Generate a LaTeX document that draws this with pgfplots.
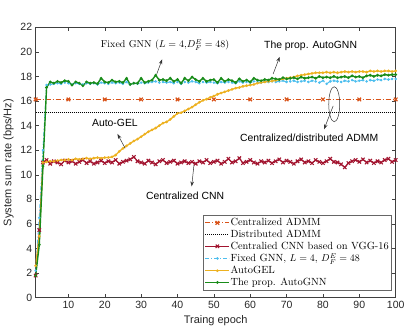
\documentclass[border=0pt]{standalone}
\usepackage{fontspec}
\setsansfont{Liberation Sans}
\usepackage{pgfplots}
\usepackage{pgfplotstable}
\pgfplotsset{compat=1.18}
\usetikzlibrary{arrows.meta}
\definecolor{admm}{rgb}{0.85,0.325,0.098}
\definecolor{cnn}{rgb}{0.635,0.078,0.184}
\definecolor{fixgnn}{rgb}{0.301,0.745,0.933}
\definecolor{gel}{rgb}{0.929,0.694,0.125}
\definecolor{gnn}{rgb}{0.1,0.55,0.1}

% epoch, CNN (VGG-16), fixed GNN, AutoGEL, AutoGNN
\pgfplotstableread{
x   cnn    fixed  gel    gnn
1   1.80   2.20   2.60   1.80
2   5.50   6.50   5.00   4.30
3   11.00  12.00  11.00  10.70
4   11.20  17.30  11.05  17.10
5   10.90  17.35  11.10  17.55
6   11.10  17.40  11.10  17.45
7   11.00  17.45  11.15  17.60
8   10.85  17.40  11.20  17.50
9   11.15  17.50  11.20  17.65
10  11.00  17.45  11.25  17.60
11  11.10  17.35  11.20  17.30
12  10.90  17.45  11.30  17.55
13  11.05  17.40  11.25  17.45
14  11.20  17.35  11.30  17.25
15  10.95  17.45  11.35  17.55
16  11.10  17.40  11.30  17.45
17  10.90  17.45  11.35  17.50
18  11.00  17.35  11.40  17.40
19  11.15  17.50  11.35  17.85
20  10.95  17.45  11.40  17.55
21  11.10  17.40  11.40  17.50
22  11.00  17.50  11.45  17.70
23  11.20  17.45  11.60  17.55
24  10.90  17.50  11.90  17.60
25  11.05  17.40  12.15  17.50
26  11.15  17.55  12.35  17.85
27  11.25  17.35  12.55  17.35
28  11.45  17.45  12.75  17.45
29  11.10  17.40  12.90  17.45
30  11.00  17.50  13.10  17.85
31  10.90  17.45  13.30  17.50
32  11.15  17.50  13.50  17.60
33  11.00  17.55  13.65  17.70
34  10.85  17.60  13.80  18.10
35  11.10  17.50  14.00  17.70
36  11.20  17.55  14.20  17.75
37  10.95  17.50  14.30  17.65
38  11.05  17.55  14.50  17.85
39  11.15  17.45  14.75  17.60
40  10.90  17.55  15.00  17.75
41  11.00  17.40  15.05  17.45
42  11.10  17.55  15.20  17.85
43  10.95  17.50  15.35  17.65
44  11.05  17.60  15.50  17.95
45  10.90  17.55  15.70  17.75
46  11.10  17.45  15.90  17.60
47  11.00  17.55  16.05  17.85
48  11.20  17.50  16.15  17.60
49  10.95  17.55  16.30  17.70
50  11.05  17.50  16.40  17.75
51  11.15  17.45  16.55  17.50
52  10.90  17.55  16.65  17.85
53  11.05  17.50  16.75  17.60
54  11.30  17.55  16.85  17.75
55  11.00  17.50  16.95  17.65
56  11.10  17.45  17.05  17.50
57  11.35  17.60  17.10  17.80
58  10.95  17.50  17.20  17.60
59  11.05  17.55  17.25  17.70
60  11.20  17.50  17.30  17.55
61  11.00  17.60  17.35  17.85
62  10.90  17.55  17.45  17.70
63  11.10  17.50  17.50  17.65
64  11.00  17.60  17.55  17.75
65  11.15  17.55  17.60  17.70
66  10.95  17.60  17.62  17.85
67  11.10  17.55  17.68  17.80
68  11.25  17.60  17.75  17.75
69  11.00  17.65  17.80  17.90
70  11.15  17.55  17.85  17.80
71  11.05  17.60  17.90  17.85
72  10.90  17.65  17.95  17.90
73  11.10  17.55  18.05  17.80
74  11.25  17.60  18.10  17.95
75  11.00  17.65  18.15  17.85
76  11.10  17.55  18.20  17.90
77  10.95  17.65  18.25  17.95
78  11.20  17.60  18.30  17.85
79  11.05  17.50  18.30  18.00
80  10.95  17.65  18.30  17.90
81  11.10  17.40  18.35  17.95
82  11.30  17.60  18.30  17.90
83  11.05  17.65  18.35  18.00
84  11.00  17.60  18.30  17.90
85  10.85  17.55  18.35  17.95
86  10.60  17.65  18.40  18.00
87  10.95  17.60  18.35  17.90
88  11.10  17.70  18.40  18.05
89  11.20  17.60  18.35  17.95
90  11.05  17.65  18.40  18.00
91  11.25  17.70  18.40  17.90
92  11.00  17.60  18.35  18.05
93  11.15  17.70  18.45  18.10
94  10.95  17.65  18.40  18.00
95  11.10  17.75  18.45  18.10
96  11.00  17.70  18.40  18.05
97  11.20  17.80  18.45  18.15
98  11.30  17.75  18.45  18.10
99  11.05  17.80  18.40  18.15
100 11.20  17.80  18.45  18.15
}\rates

\begin{document}
\begin{tikzpicture}
\begin{axis}[
    width=360.1pt, height=270.4pt, scale only axis,
    xmin=1, xmax=100, ymin=0, ymax=22,
    xtick={10,20,...,100}, ytick={0,2,...,22},
    tick align=inside, major tick length=3.5pt,
    axis line style={black!75}, every tick/.style={black!75},
    ticklabel style={font=\sffamily\fontsize{10.5}{12}\selectfont, text=black!85},
    /pgf/number format/assume math mode=true,
    xlabel={Traing epoch}, ylabel={System sum rate (bps/Hz)},
    label style={font=\sffamily\fontsize{11}{13}\selectfont, text=black!85},
    legend cell align=left,
    legend style={font=\rmfamily\fontsize{10.4}{12}\selectfont,
        at={(0.987,0.026)}, anchor=south east,
        draw=black!60, inner sep=1.5pt, row sep=-1.2pt,
        nodes={inner xsep=0.5pt}},
    legend image code/.code={\draw[mark repeat=2,mark phase=2,#1]
        plot coordinates {(0pt,0pt) (12pt,0pt) (24pt,0pt)};},
]
\addplot[admm, line width=1pt, dash pattern=on 5pt off 2pt on 1pt off 2pt,
    mark=x, mark size=2.5pt, mark options={solid, line width=1.2pt}]
    coordinates {(1,16.13) (10,16.13) (20,16.13) (30,16.13) (40,16.13) (50,16.13)
                 (60,16.13) (70,16.13) (80,16.13) (90,16.13) (100,16.13)};
\addlegendentry{Centralized ADMM}
\addplot[black, line width=1pt, dash pattern=on 1pt off 1pt]
    coordinates {(1,15.07) (100,15.07)};
\addlegendentry{Distributed ADMM}
\addplot[cnn, line width=1.1pt, mark=x, mark size=2.4pt, mark options={line width=1.1pt}]
    table[x=x, y=cnn] {\rates};
\addlegendentry{Centralied CNN based on VGG-16}
\addplot[fixgnn, line width=1pt, dash pattern=on 4pt off 2pt on 1pt off 2pt,
    mark=*, mark size=0.7pt, mark options={solid}]
    table[x=x, y=fixed] {\rates};
\addlegendentry{Fixed GNN, $L=4$, $D_F^E=48$}
\addplot[gel, line width=1.3pt, mark=*, mark size=0.6pt]
    table[x=x, y=gel] {\rates};
\addlegendentry{AutoGEL}
\addplot[gnn, line width=1.4pt, mark=*, mark size=0.6pt]
    table[x=x, y=gnn] {\rates};
\addlegendentry{The prop. AutoGNN}

% annotations
\node[font=\rmfamily] at (axis cs:36.6,20.56) {Fixed GNN ($L=4$,$D_F^E=48$)};
\draw[-{Stealth[length=5pt,width=3.5pt]}, black!80, line width=0.5pt]
    (axis cs:34.3,18.2) -- (axis cs:35.8,19.4);
\node[font=\sffamily\fontsize{10.4}{12}\selectfont] at (axis cs:76.6,20.5) {The prop. AutoGNN};
\draw[-{Stealth[length=5pt,width=3.5pt]}, black!80, line width=0.5pt]
    (axis cs:66.3,18.2) -- (axis cs:68.1,19.6);
\node[font=\sffamily\fontsize{10.4}{12}\selectfont] at (axis cs:22.8,14.19) {Auto-GEL};
\draw[-{Stealth[length=5pt,width=3.5pt]}, black!80, line width=0.5pt]
    (axis cs:25.6,12.16) -- (axis cs:23.5,13.32);
\node[font=\sffamily\fontsize{10.4}{12}\selectfont] at (axis cs:42.1,8.27) {Centralized CNN};
\draw[-{Stealth[length=5pt,width=3.5pt]}, black!80, line width=0.5pt]
    (axis cs:44.6,11.0) -- (axis cs:43.9,9.05);
\node[font=\sffamily\fontsize{10.4}{12}\selectfont] at (axis cs:76.2,13.02) {Centralized/distributed ADMM};
\draw[black!80, line width=0.5pt] (axis cs:83.1,15.74) ellipse [x radius=5.5pt, y radius=17.5pt];
\draw[-{Stealth[length=5pt,width=3.5pt]}, black!80, line width=0.5pt]
    (axis cs:82.8,15.6) -- (axis cs:80.3,13.7);
\end{axis}
\path (current axis.south west) ++(-35.6pt,-38.3pt) rectangle ++(415pt,336pt);
\end{tikzpicture}
\end{document}
